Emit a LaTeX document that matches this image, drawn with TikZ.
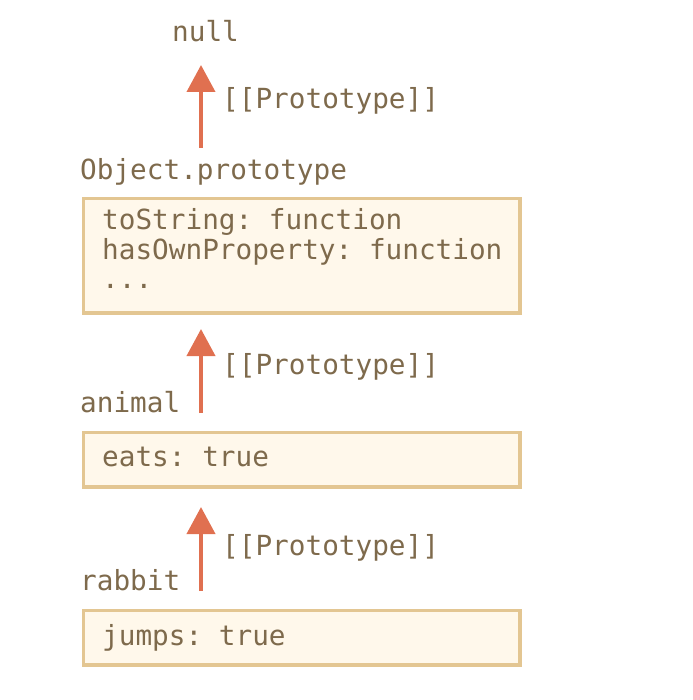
\documentclass[tikz,border=0pt]{standalone}
\usepackage{fontspec}
\setmonofont{DejaVu Sans Mono}
\usetikzlibrary{arrows.meta}
\definecolor{txt}{HTML}{7E6A4C}
\definecolor{bord}{HTML}{E3C692}
\definecolor{boxfill}{HTML}{FFF8EB}
\definecolor{arr}{HTML}{E07050}
\tikzset{
  lbl/.style={anchor=base west, inner sep=0pt, text=txt, font=\ttfamily\fontsize{27.7}{30}\selectfont},
  objbox/.style={draw=bord, fill=boxfill, line width=3.5pt, anchor=north west, inner sep=0pt, minimum width=436.5pt},
  protoarrow/.style={draw=arr, line width=4pt, -{Triangle[width=28pt,length=27pt]}}
}
\begin{document}
\begin{tikzpicture}[x=1pt,y=-1pt]
\useasboundingbox (0,0) rectangle (692,700);
% boxes
\node[objbox, minimum height=114.5pt] (objbox) at (81.75,196.75) {};
\node[objbox, minimum height=54.5pt] (animalbox) at (81.75,430.75) {};
\node[objbox, minimum height=54.5pt] (rabbitbox) at (81.75,608.75) {};
% labels
\node[lbl] (null) at (172,42) {null};
\node[lbl] (objlbl) at (80,180) {Object.prototype};
\node[lbl] (l1) at (102,230) {toString: function};
\node[lbl] (l2) at (102,259) {hasOwnProperty: function};
\node[lbl] (l3) at (102,288) {...};
\node[lbl] (animal) at (80,412) {animal};
\node[lbl] (eats) at (102,466) {eats: true};
\node[lbl] (rabbit) at (80,590) {rabbit};
\node[lbl] (jumps) at (102,645) {jumps: true};
\node[lbl] (p1) at (222,109) {[[Prototype]]};
\node[lbl] (p2) at (222,374) {[[Prototype]]};
\node[lbl] (p3) at (222,555) {[[Prototype]]};
% arrows
\coordinate (a1s) at (201,148);
\coordinate (a1e) at (201,65);
\coordinate (a2s) at (201,413);
\coordinate (a2e) at (201,329);
\coordinate (a3s) at (201,591);
\coordinate (a3e) at (201,507);
\draw[protoarrow] (a1s) -- (a1e);
\draw[protoarrow] (a2s) -- (a2e);
\draw[protoarrow] (a3s) -- (a3e);
\end{tikzpicture}
\end{document}
